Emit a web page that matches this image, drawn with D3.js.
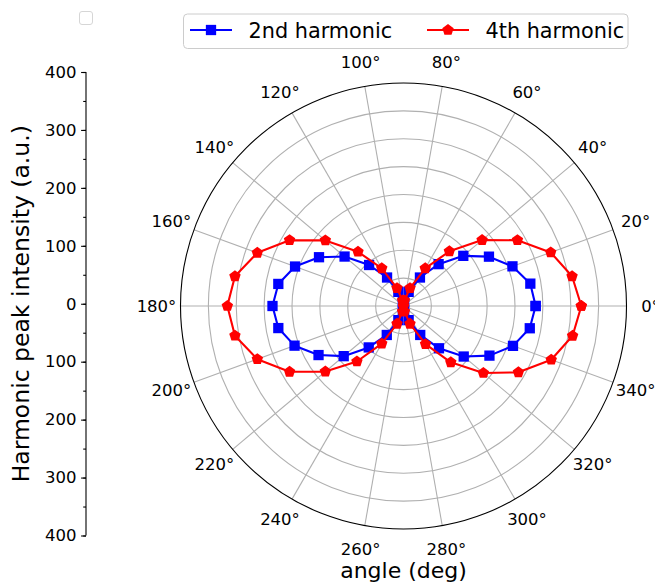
<!DOCTYPE html>
<html>
<head>
<meta charset="utf-8">
<script src="https://cdn.jsdelivr.net/npm/d3@7"></script>
<style>
  body { margin: 0; background: #fff; }
  svg { font-family: "DejaVu Sans", sans-serif; }
</style>
</head>
<body>
<div id="chart"></div>
<script>
// angles in degrees, one reading every 10 deg (closed at 360)
const angles = [0,10,20,30,40,50,60,70,80,90,100,110,120,130,140,150,160,170,180,
  190,200,210,220,230,240,250,260,270,280,290,300,310,320,330,340,350,360]

const second = [237,231,208,177,140,98,59,27,7,0,7,27,59,96,138,175,207,228,235,
  228,208,176,140,97,60,27,7,0,7,27,60,99,141,178,209,230,237]

const fourth = [319,307,281,236,184,128,78,34,10,0,10,34,78,127,183,236,279,307,316,
  307,279,236,183,130,78,34,10,0,10,34,79,132,187,238,282,308,319]

const thetaTicks = [0,20,40,60,80,100,120,140,160,180,200,220,240,260,280,300,320,340]
const radialGrid = [50,100,150,200,250,300,350]
const leftTicks = [-400,-300,-200,-100,0,100,200,300,400]

const width = 655, height = 586
const cx = 403.5, cy = 306, R = 223

let svg = d3.select('#chart').append('svg')
  .attr('width', width)
  .attr('height', height)

let r = d3.scaleLinear().domain([0, 400]).range([0, R])
let rad = d => d * Math.PI / 180

let polar = svg.append('g').attr('transform', `translate(${cx},${cy})`)

// grid
polar.selectAll('circle.grid')
  .data(radialGrid)
  .enter()
  .append('circle')
  .attr('class', 'grid')
  .attr('r', d => r(d))
  .attr('fill', 'none')
  .attr('stroke', '#b0b0b0')
  .attr('stroke-width', 1.1)

polar.selectAll('line.spoke')
  .data(thetaTicks)
  .enter()
  .append('line')
  .attr('class', 'spoke')
  .attr('x1', 0).attr('y1', 0)
  .attr('x2', d => r(400) * Math.cos(rad(d)))
  .attr('y2', d => -r(400) * Math.sin(rad(d)))
  .attr('stroke', '#b0b0b0')
  .attr('stroke-width', 1.1)

polar.append('circle')
  .attr('r', r(400))
  .attr('fill', 'none')
  .attr('stroke', '#000')
  .attr('stroke-width', 1.1)

polar.selectAll('text.theta')
  .data(thetaTicks)
  .enter()
  .append('text')
  .attr('class', 'theta')
  .attr('x', d => (R + 24) * Math.cos(rad(d)))
  .attr('y', d => -(R + 24) * Math.sin(rad(d)))
  .attr('text-anchor', 'middle')
  .attr('dominant-baseline', 'central')
  .attr('font-size', 16.5)
  .text(d => d + '°')

// series
let line = d3.lineRadial()
  .angle(d => Math.PI / 2 - rad(d[0]))
  .radius(d => r(d[1]))

let pentagon = size => {
  let p = d3.path()
  for (let i = 0; i < 5; i++) {
    let a = -Math.PI / 2 + i * 2 * Math.PI / 5
    let x = size * Math.cos(a), y = size * Math.sin(a)
    if (i == 0) p.moveTo(x, y)
    else p.lineTo(x, y)
  }
  p.closePath()
  return p.toString()
}

let series = [
  {name: '2nd harmonic', values: second, color: '#0000ff', marker: d3.symbol(d3.symbolSquare, 106)()},
  {name: '4th harmonic', values: fourth, color: '#ff0000', marker: pentagon(6)}
]

series.forEach(s => {
  let pts = angles.map((a, i) => [a, s.values[i]])

  polar.append('path')
    .datum(pts)
    .attr('d', line)
    .attr('fill', 'none')
    .attr('stroke', s.color)
    .attr('stroke-width', 2.1)
    .attr('stroke-linejoin', 'round')

  polar.append('g').selectAll('path')
    .data(pts)
    .enter()
    .append('path')
    .attr('d', s.marker)
    .attr('transform', d => `translate(${r(d[1]) * Math.cos(rad(d[0]))},${-r(d[1]) * Math.sin(rad(d[0]))})`)
    .attr('fill', s.color)
})

// left axis
let y = d3.scaleLinear().domain([-400, 400]).range([535.5, 72])

svg.append('g')
  .attr('transform', 'translate(86,0)')
  .call(d3.axisLeft(y).tickValues(d3.range(-400, 401, 50)).tickSize(2.8).tickFormat(''))
  .call(g => g.select('.domain').remove())
  .call(g => g.selectAll('line').attr('stroke', '#000').attr('stroke-width', 1.1))

let leftAxis = svg.append('g')
  .attr('transform', 'translate(86,0)')
  .call(d3.axisLeft(y).tickValues(leftTicks).tickSize(4.9).tickPadding(4.5).tickFormat(d => Math.abs(d)))

leftAxis.select('.domain').attr('stroke', '#000').attr('stroke-width', 1.1)
  .attr('d', `M0,${y(-400)}V${y(400)}`)
leftAxis.selectAll('line').attr('stroke', '#000').attr('stroke-width', 1.1)
leftAxis.selectAll('text')
  .attr('font-size', 16.5)
  .attr('font-family', '"DejaVu Sans", sans-serif')
  .attr('fill', '#000')

svg.append('text')
  .attr('transform', `translate(29,${y(0)}) rotate(-90)`)
  .attr('text-anchor', 'middle')
  .attr('font-size', 23.5)
  .text('Harmonic peak intensity (a.u.)')

svg.append('text')
  .attr('x', cx)
  .attr('y', 578)
  .attr('text-anchor', 'middle')
  .attr('font-size', 22)
  .text('angle (deg)')

// empty legend box
svg.append('rect')
  .attr('x', 79.5).attr('y', 11.5)
  .attr('width', 13).attr('height', 13)
  .attr('rx', 2.5)
  .attr('fill', '#fff')
  .attr('stroke', '#d6d6d6')

// legend
let legend = svg.append('g')
legend.append('rect')
  .attr('x', 183.5).attr('y', 14)
  .attr('width', 444.5).attr('height', 34.5)
  .attr('rx', 4)
  .attr('fill', '#fff')
  .attr('stroke', '#cccccc')

let legendX = [{line: 190, text: 248.5}, {line: 427, text: 485.5}]

series.forEach((s, i) => {
  let lx = legendX[i]
  legend.append('line')
    .attr('x1', lx.line).attr('x2', lx.line + 42)
    .attr('y1', 30).attr('y2', 30)
    .attr('stroke', s.color)
    .attr('stroke-width', 2.1)
  legend.append('path')
    .attr('d', s.marker)
    .attr('transform', `translate(${lx.line + 21},30)`)
    .attr('fill', s.color)
  legend.append('text')
    .attr('x', lx.text)
    .attr('y', 37.5)
    .attr('font-size', 20.8)
    .text(s.name)
})
</script>
</body>
</html>
